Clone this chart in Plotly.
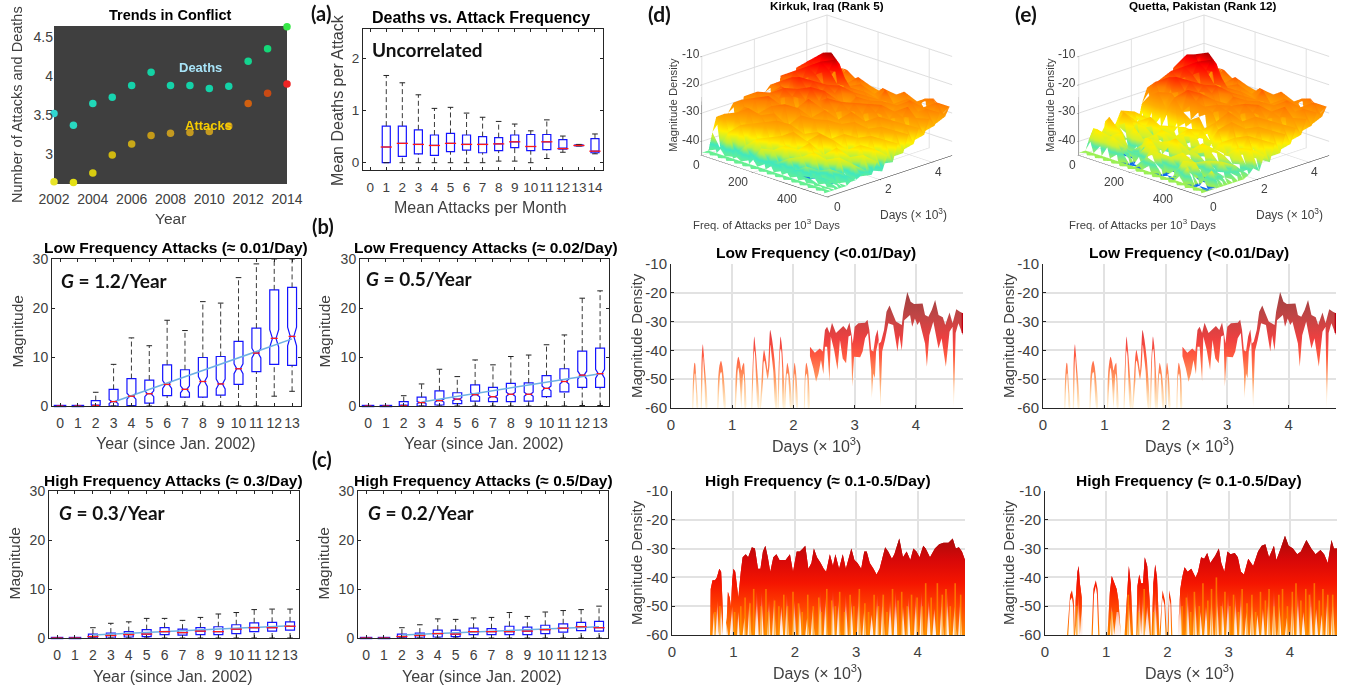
import plotly.graph_objects as go

W, H = 1354, 690
FONT = "Liberation Sans"
LATO = "Lato"
TICK = "#404040"

# ---------- panel (a) data
years = [2002,2003,2004,2005,2006,2007,2008,2009,2010,2011,2012,2013,2014]
deaths = [3.52,3.37,3.65,3.73,3.88,4.05,3.88,3.88,3.84,3.87,4.19,4.35,4.63]
attacks = [2.65,2.64,2.76,2.99,3.13,3.24,3.27,3.28,3.29,3.36,3.65,3.78,3.90]
death_colors = ["#2fd8d0","#28d8c0","#20d8b8","#18d4b0","#14d2aa","#14d2a4","#14d2a8","#14d2a8","#14d2a8","#14d2a8","#14d490","#14d878","#38e848"]
attack_colors = ["#e8e428","#e4e014","#d8cc10","#d0b810","#c8a818","#c49a18","#c49a20","#c49a20","#c49a20","#c89820","#d06010","#c84a14","#f02424"]

freq_cats = [1,2,3,4,5,6,7,8,9,10,11,12,13,14]
a_q1 = [0,0.12,0.17,0.14,0.21,0.24,0.19,0.23,0.29,0.23,0.25,0.26,0.32,0.19]
a_med = [0.30,0.37,0.35,0.33,0.37,0.35,0.35,0.36,0.40,0.31,0.40,0.27,0.33,0.22]
a_q3 = [0.70,0.70,0.63,0.53,0.56,0.53,0.50,0.48,0.53,0.54,0.54,0.44,0.34,0.46]
a_lo = [0,0,0,0,0,0,0,0.03,0.03,0,0.08,0.20,0.32,0.17]
a_hi = [1.67,1.53,1.30,1.04,1.06,0.95,0.87,0.79,0.74,0.61,0.82,0.51,0.35,0.55]

# ---------- panels (b), (c) data
yr = list(range(14))
b1_q1 = [0,0,0,0,0.1,0.6,2.1,1.8,1.8,2.2,4.4,7.0,8.5,8.3]
b1_med = [0,0,0.1,0.9,2.0,2.5,4.4,3.4,5.0,4.5,7.6,10.8,13.8,14.2]
b1_q3 = [0,0,1.1,3.4,5.6,5.3,8.4,7.4,9.9,10.1,13.2,15.9,23.7,24.2]
b1_lo = [0,0,0,0,0,0,0,0,0,0,0,0,2,3]
b1_hi = [0,0,2.8,8.5,13.9,12.3,17.5,15.4,21.3,21.0,26.2,29.0,30,30]
b1_notch = [0,0,0.1,0.4,0.6,0.6,0.8,0.7,1.0,1.0,1.0,1.0,1.8,1.9]
b1_trend_x = [3,13]
b1_trend_y = [0.8,13.7]

b2_q1 = [0,0,0,0,0.2,0.5,1.0,0.9,0.9,1.0,1.9,2.9,3.8,3.8]
b2_med = [0,0,0.05,0.7,1.1,1.4,2.3,1.9,2.4,2.4,3.6,5.0,6.3,6.6]
b2_q3 = [0,0,0.9,1.8,3.1,2.7,4.3,3.8,4.6,4.7,6.2,7.6,11.2,11.8]
b2_lo = [0,0,0,0,0,0,0,0,0,0,0,0,0.1,0.1]
b2_hi = [0,0,2.1,4.5,7.5,6.0,9.4,8.4,10.1,10.4,12.5,14.5,22.0,23.5]
b2_notch = [0,0,0.1,0.2,0.3,0.3,0.4,0.3,0.4,0.4,0.5,0.5,0.8,0.9]
b2_trend_x = [3,13]
b2_trend_y = [0.8,6.6]

c1_q1 = [0,0,0,0,0.2,0.3,0.7,0.6,0.7,0.7,0.9,1.3,1.4,1.6]
c1_med = [0,0,0.3,0.5,0.7,0.8,1.3,1.1,1.4,1.3,1.8,2.1,2.1,2.4]
c1_q3 = [0,0,0.8,1.0,1.3,1.7,2.1,1.8,2.1,2.3,2.7,3.1,3.2,3.3]
c1_lo = [0]*14
c1_hi = [0,0,2.1,3.0,3.3,4.0,4.0,3.6,4.2,4.9,5.2,5.8,5.9,5.9]
c1_trend_x = [2,13]
c1_trend_y = [0.6,2.5]

c2_q1 = [0,0,0,0,0.2,0.3,0.7,0.7,0.7,0.7,0.9,1.2,1.5,1.4]
c2_med = [0,0,0.3,0.5,0.9,0.8,1.3,1.3,1.3,1.4,1.7,2.0,2.3,2.1]
c2_q3 = [0,0,0.8,1.0,1.6,1.6,2.0,1.9,2.4,2.2,2.6,2.9,3.2,3.4]
c2_lo = [0]*14
c2_hi = [0,0,2.1,2.7,3.9,3.8,4.1,4.2,5.2,4.4,5.3,5.6,5.8,6.5]
c2_trend_x = [2,13]
c2_trend_y = [0.6,2.3]

# ---------- slices: low frequency (same picture in (d) and (e))
low_days = [0.345,0.36,0.375,0.385,0.395,0.405,0.42,0.44,None,
 0.485,0.495,0.505,0.52,0.535,0.55,0.57,0.59,None,
 0.755,0.77,0.79,0.817,0.84,0.86,0.89,None,
 1.04,1.06,1.08,1.10,1.125,1.15,1.165,1.19,1.205,1.225,None,
 1.31,1.325,1.345,1.36,1.38,1.41,1.44,None,
 1.45,1.48,1.50,1.52,1.55,1.58,1.60,1.62,1.65,1.69,1.73,None,
 1.74,1.76,1.78,1.79,1.81,1.83,1.85,None,
 1.85,1.87,1.89,1.90,1.92,1.94,1.97,None,
 1.98,2.00,2.02,2.04,2.07,None,
 2.17,2.19,2.21,2.24,2.26,None,
 2.27,2.35,2.43,2.48,2.515,2.55,2.59,2.63,2.695,2.75,2.815,2.87,2.915,2.945,2.97,3.0,3.06,3.17,3.21,3.24,3.27,3.305,3.34,3.375,3.40,3.43,3.48,3.52,3.57,3.62,3.675,3.77,3.795,3.86,3.915,3.97,4.07,4.11,4.15,4.205,4.26,4.315,4.37,4.44,4.48,4.55,4.60,4.66,4.72,4.77]
low_upper = [-60,-50,-45.5,-44.3,-44.6,-47,-52,-60,None,
 -60,-47,-41,-37.9,-41,-45,-50,-60,None,
 -60,-50,-45.5,-43.6,-45.5,-49,-60,None,
 -60,-48,-44,-42.2,-44,-47,-45.5,-44.3,-48,-60,None,
 -60,-50,-40,-35.2,-39,-47,-60,None,
 -60,-50,-43,-39.9,-43,-47,-40,-32.9,-36,-43,-60,None,
 -60,-45,-37.5,-35.2,-38,-44,-60,None,
 -60,-50,-45.5,-44.3,-46,-49,-60,None,
 -60,-48,-44.3,-47,-60,None,
 -60,-48,-44.3,-47,-60,None,
 -38.7,-40.8,-39.3,-40.4,-32.9,-31.8,-34,-30.4,-34,-32.9,-31.5,-32.9,-30.3,-34,-37.6,-31.8,-30.6,-30.4,-29.4,-32.9,-39.9,-40.4,-35.2,-32.7,-37.6,-37,-32.9,-26.6,-24.4,-27.1,-30,-31.2,-26.6,-19.7,-23.1,-23.9,-23.9,-23.7,-27.7,-28.3,-26,-22.5,-27.7,-28.5,-31.2,-26.8,-30.6,-25.7,-26.6,-27.1]
low_low_days = [0.365,0.375,0.385,0.39,0.395,0.40,0.41,0.42,None,
 0.505,0.515,0.52,0.525,0.53,0.54,0.55,0.57,None,
 0.775,0.795,0.805,0.82,0.83,0.84,0.87,None,
 1.06,1.08,1.09,1.10,1.115,1.15,1.175,1.185,1.195,1.205,None,
 1.33,1.345,1.355,1.365,1.375,1.39,1.42,None,
 1.47,1.505,1.515,1.525,1.54,1.58,1.61,1.625,1.64,1.67,1.71,None,
 1.76,1.775,1.785,1.795,1.805,1.815,1.83,None,
 1.87,1.885,1.895,1.905,1.915,1.925,1.95,None,
 2.00,2.015,2.025,2.03,2.05,None,
 2.19,2.20,2.215,2.23,2.24,None,
 2.27,2.325,2.37,2.41,2.45,2.49,2.515,2.55,2.59,2.61,2.665,2.72,2.76,2.805,2.86,2.90,2.94,2.96,2.99,3.09,3.13,3.17,3.22,3.27,3.28,3.305,3.33,3.35,3.39,3.42,3.45,3.495,3.55,3.63,3.70,3.73,3.77,3.81,3.905,3.94,3.985,4.025,4.06,4.15,4.18,4.22,4.285,4.37,4.42,4.49,4.55,4.60,4.62,4.65,4.695,4.77]
low_lower = [-60,-53,-48.5,-48,-48,-50,-55,-60,None,
 -60,-47,-43,-42,-44,-48,-52,-60,None,
 -60,-50,-48,-47.5,-48,-52,-60,None,
 -60,-51,-47,-46,-48,-60,-49,-48,-51,-60,None,
 -60,-47,-41,-40,-42,-50,-60,None,
 -60,-50,-44,-43.5,-45,-50,-45,-38,-41,-47,-60,None,
 -60,-44,-40,-39.5,-41,-46,-60,None,
 -60,-50,-48,-48,-48.5,-52,-60,None,
 -60,-49,-48,-50,-60,None,
 -60,-49,-48,-50,-60,None,
 -42,-46.2,-50.9,-48,-43.3,-48.3,-38.7,-38.7,-50.9,-35.2,-39.9,-46.8,-36.4,-42.8,-44.5,-35.2,-34.7,-52.6,-42.2,-42.4,-40.4,-35.8,-34,-46.8,-56.6,-48,-49.7,-40.4,-36.4,-60,-40.4,-36.4,-30.6,-31.2,-40.4,-34.7,-40,-29.5,-27.7,-31.8,-28.9,-31.2,-30,-37.6,-45.7,-34.7,-30,-39.3,-35.8,-45.7,-33.5,-31.8,-60,-34,-30.6,-34.7]
low_edge_days = [4.765,4.765]
low_edge_vals = [-27,-34]

# ---------- slices: high frequency, upper edge
hd_days = [0.62,0.63,0.66,0.70,0.73,0.77,0.80,0.83,None,
 0.88,0.91,0.94,0.96,0.98,1.00,1.03,1.06,1.08,1.12,1.15,1.20,1.24,1.30,1.35,1.40,1.44,1.48,1.52,1.56,1.60,1.65,1.70,1.75,1.80,1.85,1.92,1.97,2.03,2.08,2.13,2.17,2.22,2.27,2.31,2.36,2.42,2.47,2.51,2.57,2.62,2.66,2.72,2.78,2.83,2.88,2.92,2.97,3.02,3.08,3.13,3.17,3.22,3.28,3.33,3.38,3.43,3.47,3.52,3.58,3.62,3.70,3.76,3.82,3.88,3.93,3.98,4.03,4.09,4.13,4.20,4.28,4.35,4.42,4.50,4.57,4.62,4.67,4.72,4.77]
hd_upper = [-60,-44,-41,-41,-40,-37,-38,-52,None,
 -60,-45,-47,-50,-41,-37,-38,-44,-47,-38,-33,-32,-33,-29.5,-30,-37,-37,-31,-29,-33,-38,-33,-32,-34,-34,-34,-32,-38,-31,-31,-30,-29,-37,-35,-30,-33,-35,-37,-38,-32,-36,-32,-37,-32,-37,-33,-30,-34,-35,-37,-31,-31,-35,-37,-39,-37,-33,-29.5,-31,-33.5,-32,-26.5,-33,-31,-34,-30,-31,-33,-29,-30,-33,-30,-28.5,-28,-28,-26.5,-30,-29.5,-31,-34]
# high frequency, white notches along the bottom edge
hd_low_days = [0.62,0.66,0.68,0.71,0.74,0.76,0.80,0.83,None,
 0.88,0.91,0.94,0.98,1.00,1.03,1.06,1.08,1.10,1.13,1.15,1.18,1.20,1.23,1.26,1.29,1.31,1.35,1.38,1.41,1.43,1.46,1.49,1.52,1.55,1.58,1.60,1.63,1.66,1.69,1.72,1.75,1.78,1.81,1.84,1.87,1.90,1.93,1.96,1.99,2.02,2.05,2.08,2.11,2.14,2.17,2.20,2.23,2.26,2.29,2.32,2.35,2.38,2.41,2.44,2.47,2.50,2.53,2.56,2.59,2.62,2.65,2.68,2.71,2.74,2.77,2.80,2.83,2.86,2.89,2.92,2.95,2.98,3.01,3.04,3.07,3.10,3.13,3.16,3.19,3.22,3.25,3.28,3.31,3.34,3.37,3.40,3.43,3.46,3.49,3.52,3.55,3.58,3.61,3.64,3.67,3.70,3.73,3.76,3.79,3.82,3.85,3.88,3.91,3.94,3.97,4.00,4.03,4.06,4.09,4.12,4.15,4.18,4.21,4.24,4.27,4.30,4.33,4.36,4.39,4.42,4.45,4.48,4.51,4.54,4.57,4.60,4.63,4.66,4.69,4.72,4.77]
hd_lower = [-60,-60,-52,-60,-48,-60,-50,-60,None,
 -60,-60,-54,-60,-60,-50,-60,-60,-60,-52,-60,-60,-60,-54,-60,-60,-48,-60,-60,-60,-44,-60,-60,-45,-60,-60,-60,-48,-60,-60,-47,-60,-60,-60,-50,-60,-60,-46,-60,-60,-60,-48,-60,-60,-49,-60,-60,-60,-54,-60,-60,-51,-60,-60,-60,-45,-60,-60,-47,-60,-60,-60,-44,-60,-60,-48,-60,-60,-60,-46,-60,-60,-48,-60,-60,-60,-44,-60,-60,-51,-60,-60,-60,-53,-60,-60,-46,-60,-60,-45,-60,-60,-60,-48,-60,-60,-44,-60,-60,-60,-50,-60,-60,-47,-60,-60,-60,-46,-60,-60,-45,-60,-60,-60,-48,-60,-60,-51,-60,-60,-60,-47,-60,-60,-45,-60,-60,-60,-50,-60,-60,-48,-60,-60]
hd_streak_days = [0.70,0.78,1.02,1.12,1.19,1.27,1.33,1.45,1.53,1.57,1.67,1.74,1.82,1.88,1.97,2.06,2.12,2.21,2.30,2.39,2.43,2.52,2.60,2.66,2.73,2.81,2.90,2.96,3.05,3.14,3.20,3.29,3.36,3.44,3.50,3.59,3.68,3.74,3.83,3.90,3.99,4.07,4.13,4.22,4.32,4.40,4.46,4.53,4.61,4.70]
hd_streak_top = [-52,-50,-52,-50,-47,-49,-44,-50,-44,-52,-48,-50,-46,-50,-45,-49,-52,-46,-50,-47,-52,-44,-48,-50,-45,-52,-46,-50,-44,-49,-52,-46,-50,-46,-52,-44,-48,-45,-50,-46,-47,-50,-42,-47,-42,-46,-44,-50,-42,-46]

he_days = [0.36,0.41,0.44,0.47,0.49,None,
 0.49,0.50,0.53,0.55,0.57,0.60,0.61,None,
 0.76,0.79,0.83,0.86,0.89,None,
 1.02,1.06,1.09,1.13,1.17,1.20,1.24,None,
 1.30,1.34,1.37,1.40,1.44,None,
 1.49,1.51,1.54,1.57,1.60,1.63,1.67,1.71,1.73,None,
 1.74,1.77,1.80,1.83,1.87,None,
 1.87,1.90,1.92,1.96,1.99,None,
 2.00,2.03,2.06,2.08,None,
 2.17,2.21,2.24,2.28,2.33,2.39,2.46,2.50,2.55,2.60,2.65,2.70,2.78,2.84,2.88,2.93,2.98,3.03,3.10,3.15,3.20,3.25,3.32,3.40,3.48,3.54,3.60,3.66,3.74,3.78,3.85,3.92,3.98,4.05,4.12,4.18,4.27,4.35,4.42,4.50,4.56,4.62,4.68,4.72,4.77]
he_upper = [-60,-46,-44.5,-48,-60,None,
 -60,-48,-38,-36,-42,-47,-60,None,
 -60,-44,-41,-44,-60,None,
 -60,-45,-39.5,-42,-44,-48,-60,None,
 -60,-44,-36,-42,-60,None,
 -60,-43,-39,-42,-42,-33,-36,-48,-60,None,
 -60,-42,-35.5,-40,-60,None,
 -60,-48,-44.5,-48,-60,None,
 -60,-44.5,-48,-60,None,
 -60,-44,-40,-36.5,-38,-37,-40,-38,-33,-33.5,-31.5,-35,-32.5,-30,-35,-38,-31,-32,-31.5,-33,-38,-39,-33.5,-36,-31,-29,-28.5,-33,-29,-34,-30,-25.5,-29,-30,-32,-31,-27,-30,-32,-30.5,-32,-35,-27,-30,-30]
he_low_days = [0.38,0.41,0.44,0.46,0.47,None,
 0.49,0.50,0.53,0.55,0.57,0.60,0.61,None,
 0.78,0.80,0.83,0.85,0.87,None,
 1.02,1.06,1.09,1.13,1.17,1.20,1.24,None,
 1.30,1.34,1.37,1.40,1.44,None,
 1.49,1.51,1.54,1.57,1.60,1.63,1.67,1.71,1.73,None,
 1.74,1.77,1.80,1.83,1.87,None,
 1.89,1.91,1.92,1.95,1.97,None,
 2.02,2.03,2.05,2.06,None,
 2.17,2.21,2.24,2.27,2.30,2.33,2.36,2.39,2.42,2.45,2.48,2.51,2.54,2.57,2.60,2.63,2.66,2.69,2.72,2.75,2.78,2.81,2.84,2.87,2.90,2.93,2.96,2.99,3.02,3.05,3.08,3.11,3.14,3.17,3.20,3.23,3.26,3.29,3.32,3.35,3.38,3.41,3.44,3.47,3.50,3.53,3.56,3.59,3.62,3.65,3.68,3.71,3.74,3.77,3.80,3.83,3.86,3.89,3.92,3.95,3.98,4.01,4.04,4.07,4.10,4.13,4.16,4.19,4.22,4.25,4.28,4.31,4.34,4.37,4.40,4.43,4.46,4.49,4.52,4.55,4.58,4.61,4.64,4.67,4.70,4.73,4.77]
he_lower = [-60,-48,-47,-50,-60,None,
 -60,-60,-52,-46,-60,-50,-60,None,
 -60,-46,-43,-46,-60,None,
 -60,-60,-50,-60,-52,-52,-60,None,
 -60,-60,-48,-60,-60,None,
 -60,-60,-46,-60,-45,-60,-50,-60,-60,None,
 -60,-60,-44,-60,-60,None,
 -60,-49.5,-47,-49.5,-60,None,
 -60,-47,-49.5,-60,None,
 -60,-60,-60,-46,-60,-60,-60,-45,-60,-60,-60,-44,-60,-60,-52,-60,-60,-50,-60,-60,-46,-60,-60,-44,-60,-60,-48,-60,-60,-45,-60,-60,-60,-46,-60,-60,-44,-60,-60,-52,-60,-60,-47,-60,-60,-53,-60,-60,-51,-60,-60,-45,-60,-60,-44,-60,-60,-50,-60,-60,-60,-54,-60,-60,-46,-60,-60,-45,-60,-60,-52,-60,-60,-60,-44,-60,-60,-51,-60,-60,-53,-60,-60,-45,-60,-60,-46,-60,-60]
he_thin_segments = [0,2,7,8]
he_streak_days = [0.52,1.09,1.36,1.53,1.62,1.78,2.24,2.31,2.38,2.44,2.52,2.58,2.66,2.72,2.80,2.88,2.94,3.02,3.08,3.16,3.22,3.30,3.38,3.44,3.52,3.60,3.66,3.74,3.82,3.88,3.96,4.04,4.10,4.18,4.26,4.32,4.40,4.48,4.54,4.62,4.70]
he_streak_top = [-50,-52,-46,-52,-44,-52,-50,-47,-52,-45,-50,-42,-48,-44,-40,-50,-45,-50,-46,-52,-44,-49,-46,-52,-45,-48,-44,-50,-46,-44,-50,-45,-42,-48,-44,-46,-42,-48,-44,-46,-46]

# ---------- 3D surfaces: rows by frequency, columns by days
surf_freq = [0,32,64,96,128,160,192,224,256,288,320,352,384,416,448,480]
surf_days = [0,0.25,0.4,0.55,0.7,0.85,1.0,1.2,1.4,1.6,1.8,2.0,2.2,2.4,2.6,2.8,3.0,3.2,3.4,3.6,3.8,4.0,4.2,4.4,4.6,4.77]
surf_d = [
 [-44,-44,-38,-33,-39,-43,-33,-30,-40,-29,-37,-31,-40,-30,-28,-38,-26,-31,-36,-25,-29,-24,-28,-33,-26,-29],
 [-44,-44,-43,-31,-41,-33,-40,-28,-37,-31,-27,-39,-29,-36,-26,-33,-28,-24,-35,-27,-22,-27,-24,-33,-27,-33],
 [-44,-44,-36,-42,-30,-40,-29,-38,-27,-36,-30,-27,-38,-26,-33,-24,-32,-26,-22,-30,-24,-19,-27,-30,-35,-27],
 [-44,-44,-44,-33,-39,-28,-39,-31,-40,-26,-37,-28,-25,-35,-28,-23,-30,-33,-24,-20,-28,-18,-23,-32,-26,-33],
 [-44,-44,-39,-42,-32,-40,-30,-39,-28,-36,-29,-38,-27,-25,-34,-27,-24,-32,-27,-22,-19,-21,-29,-34,-28,-35],
 [-44,-44,-43,-36,-43,-31,-40,-29,-37,-27,-39,-30,-36,-28,-24,-33,-27,-25,-33,-26,-23,-28,-33,-26,-34,-30],
 [-44,-44,-38,-43,-35,-42,-30,-41,-33,-39,-28,-37,-26,-35,-28,-25,-34,-27,-25,-32,-27,-34,-27,-35,-29,-36],
 [-44,-44,-42,-38,-43,-34,-42,-31,-40,-29,-38,-31,-39,-29,-26,-35,-28,-32,-37,-27,-33,-28,-36,-30,-34,-31],
 [-44,-44,-41,-43,-36,-43,-32,-41,-34,-42,-30,-39,-28,-37,-30,-27,-37,-29,-27,-35,-28,-37,-30,-27,-34,-37],
 [-44,-44,-43,-39,-44,-37,-43,-35,-42,-33,-41,-30,-38,-31,-40,-29,-27,-37,-30,-28,-36,-29,-26,-35,-29,-33],
 [-44,-44,-42,-44,-38,-43,-34,-43,-32,-41,-35,-42,-31,-39,-28,-38,-30,-27,-36,-30,-28,-35,-30,-37,-27,-35],
 [-44,-44,-43,-40,-45,-36,-43,-38,-44,-34,-42,-33,-40,-30,-39,-31,-39,-29,-27,-37,-31,-29,-37,-28,-35,-30],
 [-44,-44,-43,-43,-41,-44,-38,-44,-35,-43,-37,-42,-34,-41,-32,-40,-29,-38,-31,-29,-38,-31,-27,-36,-29,-28],
 [-44,-44,-44,-42,-45,-40,-44,-37,-43,-38,-44,-35,-41,-33,-40,-31,-40,-30,-38,-30,-27,-36,-30,-29,-35,-27],
 [-44,-44,-44,-43,-43,-44,-41,-45,-39,-44,-37,-43,-36,-42,-34,-41,-32,-40,-31,-38,-30,-36,-28,-35,-27,-32],
 [-44,-44,-44,-44,-44,-44,-43,-43,-42,-41,-43,-39,-43,-38,-41,-35,-39,-33,-37,-32,-35,-30,-33,-29,-31,-28],
]
surf_e = [
 [-44,-44,-40,-37,-42,-44,-36,-41,-38,-34,-43,-38,-42,-34,-29,-37,-28,-31,-36,-25,-29,-23,-28,-33,-26,-29],
 [-44,-44,-36,-41,-41,-33,-44,-37,-33,-42,-34,-37,-43,-30,-26,-33,-29,-24,-35,-27,-20,-26,-23,-33,-27,-33],
 [-44,-44,-39,-38,-43,-36,-42,-41,-35,-36,-42,-36,-40,-28,-33,-24,-32,-26,-22,-30,-19,-20,-27,-30,-35,-27],
 [-44,-44,-37,-42,-36,-45,-45,-36,-41,-37,-34,-43,-39,-33,-28,-23,-30,-33,-24,-20,-28,-18,-23,-32,-26,-33],
 [-44,-44,-41,-40,-42,-45,-45,-39,-42,-39,-36,-38,-42,-28,-34,-27,-24,-32,-27,-22,-19,-21,-29,-34,-28,-35],
 [-44,-44,-45,-45,-42,-39,-37,-41,-37,-36,-42,-36,-37,-32,-25,-33,-27,-25,-33,-26,-23,-28,-33,-26,-34,-30],
 [-44,-44,-45,-45,-38,-36,-43,-38,-42,-39,-38,-42,-36,-34,-28,-26,-34,-27,-25,-32,-27,-34,-27,-35,-29,-36],
 [-44,-44,-40,-38,-37,-41,-41,-37,-38,-43,-37,-35,-40,-32,-29,-35,-28,-32,-37,-27,-33,-28,-36,-30,-34,-31],
 [-44,-44,-41,-38,-43,-45,-45,-35,-40,-39,-42,-37,-35,-37,-30,-28,-37,-29,-27,-35,-28,-37,-30,-27,-34,-37],
 [-44,-44,-45,-45,-39,-45,-45,-40,-39,-42,-40,-43,-38,-32,-36,-29,-28,-37,-30,-28,-36,-29,-26,-35,-29,-33],
 [-44,-44,-45,-45,-42,-37,-43,-42,-39,-36,-41,-39,-33,-39,-28,-38,-30,-27,-36,-30,-28,-35,-30,-37,-27,-35],
 [-44,-44,-43,-38,-42,-40,-40,-43,-41,-38,-38,-36,-41,-30,-37,-31,-39,-29,-27,-37,-31,-29,-37,-28,-35,-30],
 [-44,-44,-39,-41,-38,-45,-45,-39,-42,-41,-39,-40,-34,-39,-32,-40,-29,-38,-31,-29,-38,-31,-27,-36,-29,-28],
 [-44,-44,-45,-45,-43,-45,-45,-42,-39,-43,-41,-36,-39,-33,-38,-31,-40,-30,-38,-30,-27,-36,-30,-29,-35,-27],
 [-44,-44,-45,-45,-39,-42,-41,-43,-42,-40,-43,-41,-36,-40,-34,-41,-32,-40,-31,-38,-30,-36,-28,-35,-27,-32],
 [-44,-44,-44,-44,-44,-44,-44,-44,-44,-44,-43,-41,-43,-38,-41,-35,-39,-33,-37,-32,-35,-30,-33,-29,-31,-28],
]

slice_y_ticks = [-60,-50,-40,-30,-20,-10]
slice_y_text = ["-60","-50","-40","-30","-20","-10"]
scene_z_ticks = [-40,-30,-20,-10]
scene_z_text = ["-40","-30","-20","-10"]
scene_freq_ticks = [0,200,400]
scene_day_ticks = [0,2,4]

fig = go.Figure()
annots = []

def px(x): return x / W
def py(y): return 1 - y / H

def ann(text, x, y, size, color="#000000", bold=False, font=FONT, anchor="center", angle=0):
    annots.append(dict(text=("<b>%s</b>" % text) if bold else text, x=px(x), y=py(y), xref="paper", yref="paper",
                       showarrow=False, xanchor=anchor, yanchor="middle", textangle=angle,
                       font=dict(family=font, size=size, color=color)))

axis_n = [0]
def axes(l, t, r, b, xrange, yrange, tickvals_x, tickvals_y, box=True, grid=False, ticksize=14, ttext_y=None, standoff=4):
    axis_n[0] += 1
    n = axis_n[0]
    common = dict(showline=True, linecolor="#262626", linewidth=1, ticks="inside", ticklen=3, tickcolor="#262626",
                  tickfont=dict(family=FONT, size=ticksize, color=TICK), zeroline=False, tickangle=0,
                  mirror=("ticks" if box else False), showgrid=grid, gridcolor="#e2e2e2", gridwidth=1.5)
    xa = dict(domain=[px(l), px(r)], range=xrange, tickmode="array", tickvals=tickvals_x, anchor="y%d" % n, ticklabelstandoff=standoff, **common)
    ya = dict(domain=[py(b), py(t)], range=yrange, tickmode="array", tickvals=tickvals_y, anchor="x%d" % n, **common)
    if ttext_y: ya["ticktext"] = ttext_y
    fig.update_layout(**{"xaxis%d" % n: xa, "yaxis%d" % n: ya})
    return "x%d" % n, "y%d" % n

def boxes(xr, yr_, xs, q1, med, q3, lo, hi, notch=None, trend=None, width=0.5, capsize=4, boxpx=9):
    kw = dict(notched=True, notchspan=notch, notchwidth=0.3) if notch else {}
    wx, wy = [], []
    for x, a, b, c, d in zip(xs, lo, q1, q3, hi):
        wx += [x, x, None, x, x, None]
        wy += [a, b, None, c, d, None]
    fig.add_trace(go.Scatter(x=wx, y=wy, xaxis=xr, yaxis=yr_, mode="lines", line=dict(color="#3a3a3a", width=1, dash="5px,3px"), hoverinfo="skip"))
    fig.add_trace(go.Box(x=xs, q1=q1, median=med, q3=q3, lowerfence=q1, upperfence=q3, xaxis=xr, yaxis=yr_, width=width,
                         line=dict(color="#1414ff", width=1.2), fillcolor="rgba(255,255,255,0)", whiskerwidth=0, boxpoints=False, **kw))
    if trend:
        fig.add_trace(go.Scatter(x=trend[0], y=trend[1], xaxis=xr, yaxis=yr_, mode="lines", line=dict(color="#6cb0e4", width=1.5), hoverinfo="skip"))
    for arr in (lo, hi):
        fig.add_trace(go.Scatter(x=xs, y=arr, xaxis=xr, yaxis=yr_, mode="markers", hoverinfo="skip", cliponaxis=True,
                                 marker=dict(symbol="line-ew", size=capsize, line=dict(color="#222222", width=1))))
    flat_x = [x for x, a, c in zip(xs, q1, q3) if a == c and a == 0]
    flat_y = [a for a, c in zip(q1, q3) if a == c and a == 0]
    if flat_x:
        fig.add_trace(go.Scatter(x=flat_x, y=flat_y, xaxis=xr, yaxis=yr_, mode="markers", hoverinfo="skip", cliponaxis=False,
                                 marker=dict(symbol="line-ew", size=boxpx, line=dict(color="#1414ff", width=2.4))))
    fig.add_trace(go.Scatter(x=xs, y=med, xaxis=xr, yaxis=yr_, mode="markers", hoverinfo="skip", cliponaxis=False,
                             marker=dict(symbol="line-ew", size=5 if notch else 8, line=dict(color="#ff1a1a", width=1.3))))

LOW_SCALE = [[0, "#fff4dc"], [0.12, "#ffd4a8"], [0.25, "#ff9a60"], [0.45, "#ff5a40"], [0.6, "#ee4040"], [0.8, "#c04545"], [1, "#a04040"]]
HIGH_SCALE = [[0, "#ff8c00"], [0.25, "#ff4000"], [0.45, "#f51500"], [0.65, "#d80808"], [0.8, "#b40a0a"], [1, "#a01010"]]
PALE_SCALE = [[0, "rgba(255,225,215,0.35)"], [0.12, "rgba(255,190,170,0.55)"], [0.27, "rgba(255,80,50,0.9)"], [0.4, "#f52000"], [0.65, "#d80808"], [0.8, "#b40a0a"], [1, "#a01010"]]

def segments(arr):
    out, cur = [], []
    for v in arr:
        if v is None:
            out.append(cur); cur = []
        else:
            cur.append(v)
    out.append(cur)
    return out

def ribbon(xr, yr_, days, upper, low_days_, lower, scale, skip=(), smooth_before=0):
    for i, (dx, u, lx, lo) in enumerate(zip(segments(days), segments(upper), segments(low_days_), segments(lower))):
        if i in skip:
            continue
        line = dict(width=0, shape="spline", smoothing=0.7) if i < smooth_before else dict(width=0)
        fig.add_trace(go.Scatter(x=dx + lx[::-1], y=u + lo[::-1], xaxis=xr, yaxis=yr_, mode="lines",
                                 line=line, fill="toself", hoverinfo="skip",
                                 fillgradient=dict(type="vertical", colorscale=scale, start=-60, stop=-20)))

# trends
xr, yr_ = axes(54, 26, 287, 184, [2002, 2014], [2.62, 4.64], list(range(2002, 2015, 2)), [3, 3.5, 4, 4.5], ttext_y=["3", "3.5", "4", "4.5"], standoff=5)
fig.update_layout(xaxis1=dict(mirror=False, ticks="", showline=False), yaxis1=dict(mirror=False, ticks="", showline=False))
fig.add_trace(go.Scatter(x=years, y=deaths, xaxis=xr, yaxis=yr_, mode="markers", cliponaxis=False, marker=dict(size=7.5, color=death_colors), hoverinfo="skip"))
fig.add_trace(go.Scatter(x=years, y=attacks, xaxis=xr, yaxis=yr_, mode="markers", cliponaxis=False, marker=dict(size=7.5, color=attack_colors), hoverinfo="skip"))
ann("Trends in Conflict", 170, 15, 14.5, bold=True)
ann("Deaths", 200, 68, 13, color="#a8e4f8", bold=True)
ann("Attacks", 208, 125, 13, color="#f5cc00", bold=True)
ann("Number of Attacks and Deaths", 17, 105, 14.5, color=TICK, angle=-90)
ann("Year", 170, 219, 15.5, color=TICK)
ann("(a)", 321, 13, 20, color="#111111", bold=True, font=LATO)

# deaths vs frequency
xr, yr_ = axes(363, 29, 603, 170, [-0.45, 14.5], [-0.14, 2.56], list(range(15)), [0, 1, 2], ticksize=13.5, standoff=5)
boxes(xr, yr_, freq_cats, a_q1, a_med, a_q3, a_lo, a_hi, boxpx=8)
ann("Deaths vs. Attack Frequency", 481, 17, 16, bold=True)
ann("Uncorrelated", 427, 50, 19, color="#111111", bold=True, font=LATO)
ann("Mean Deaths per Attack", 338, 100, 16, color=TICK, angle=-90)
ann("Mean Attacks per Month", 481, 207, 16, color=TICK)

# panels b, c
for spec in [
    (52, 259, 301, 406, b1_q1, b1_med, b1_q3, b1_lo, b1_hi, b1_notch, (b1_trend_x, b1_trend_y), "Low Frequency Attacks (≈ 0.01/Day)", 176, 247, "<i>G</i> = 1.2/Year", 59, 280, 17),
    (360, 259, 609, 406, b2_q1, b2_med, b2_q3, b2_lo, b2_hi, b2_notch, (b2_trend_x, b2_trend_y), "Low Frequency Attacks (≈ 0.02/Day)", 486, 247, "<i>G</i> = 0.5/Year", 364, 278, 324),
    (49, 491, 299, 638, c1_q1, c1_med, c1_q3, c1_lo, c1_hi, None, (c1_trend_x, c1_trend_y), "High Frequency Attacks (≈ 0.3/Day)", 173, 480, "<i>G</i> = 0.3/Year", 57, 512, 14),
    (358, 491, 608, 638, c2_q1, c2_med, c2_q3, c2_lo, c2_hi, None, (c2_trend_x, c2_trend_y), "High Frequency Attacks (≈ 0.5/Day)", 483, 480, "<i>G</i> = 0.2/Year", 366, 512, 323),
]:
    l, t, r, b, q1, med, q3, lo, hi, notch, trend, title, tx, ty, g, gx, gy, ylx = spec
    xr, yr_ = axes(l, t, r, b, [-0.45, 13.5], [0, 30], yr, [0, 10, 20, 30], standoff=4)
    boxes(xr, yr_, yr, q1, med, q3, lo, hi, notch=notch, trend=trend)
    ann(title, tx, ty, 15.5, bold=True)
    ann(g, gx, gy, 19, color="#111111", bold=True, font=LATO, anchor="left")
    ann("Magnitude", ylx, (t + b) / 2 - 1, 15.5, color=TICK, angle=-90)
    ann("Year (since Jan. 2002)", (l + r) / 2 - 1, b + 38, 16, color=TICK)
ann("(b)", 323, 226, 20, color="#111111", bold=True, font=LATO)
ann("(c)", 322, 459, 20, color="#111111", bold=True, font=LATO)

# slices
for spec in [
    (671, 264, 963, 408, low_days, low_upper, low_low_days, low_lower, "Low Frequency (&lt;0.01/Day)", 816, 252, 636, None, None, ()),
    (1043, 264, 1336, 408, low_days, low_upper, low_low_days, low_lower, "Low Frequency (&lt;0.01/Day)", 1189, 252, 1008, None, None, ()),
    (672, 491, 965, 635, hd_days, hd_upper, hd_low_days, hd_lower, "High Frequency (≈ 0.1-0.5/Day)", 818, 480, 636, hd_streak_days, hd_streak_top, ()),
    (1045, 491, 1337, 635, he_days, he_upper, he_low_days, he_lower, "High Frequency (≈ 0.1-0.5/Day)", 1189, 480, 1008, he_streak_days, he_streak_top, he_thin_segments),
]:
    l, t, r, b, days, up, ld, lo, title, tx, ty, ylx, sd, st, thin = spec
    xr, yr_ = axes(l, t, r, b, [0, 4.77], [-60, -10], [0, 1, 2, 3, 4], slice_y_ticks, box=False, grid=True, ticksize=15, ttext_y=slice_y_text, standoff=3)
    if sd:
        base = [None if v is None else -60 for v in up]
        ribbon(xr, yr_, days, up, days, base, PALE_SCALE, skip=thin)
        ribbon(xr, yr_, days, up, ld, lo, HIGH_SCALE)
        sx, sy = [], []
        for d, top in zip(sd, st):
            sx += [d, d, None]
            sy += [-60, top, None]
        fig.add_trace(go.Scatter(x=sx, y=sy, xaxis=xr, yaxis=yr_, mode="lines", hoverinfo="skip", line=dict(color="rgba(255,155,0,0.65)", width=1.6)))
    else:
        ribbon(xr, yr_, days, up, ld, lo, LOW_SCALE, smooth_before=10)
        fig.add_trace(go.Scatter(x=low_edge_days, y=low_edge_vals, xaxis=xr, yaxis=yr_, mode="lines", hoverinfo="skip", line=dict(color="#c00010", width=2)))
    ann(title, tx, ty, 15.5, bold=True)
    ann("Magnitude Density", ylx, (t + b) / 2, 15, color=TICK, angle=-90)
    ann("Days (× 10<sup>3</sup>)", tx, b + 37, 16, color=TICK)

# 3D
scene_axis = dict(showbackground=False, gridcolor="#dddddd", showline=True, linecolor="#222222", showspikes=False, title="",
                  showticklabels=False, zeroline=False, ticks="outside", ticklen=2)
def jet(first, second, third):
    return [[0, "#0a68f0"], [0.012, "#0a68f0"], [0.025, first], [0.09, second], [0.15, third], [0.23, "#fff000"], [0.343, "#ffb000"],
            [0.486, "#ff8000"], [0.6, "#ff3000"], [0.686, "#ff0000"], [0.77, "#a80000"], [1, "#7f0000"]]
JET_D = jet("#68f090", "#40e8c0", "#b8f040")
JET_E = jet("#a0f050", "#50e8b0", "#d0f030")
for scn, sz, dom, cs in [("scene", surf_d, [679, 975], JET_D), ("scene2", surf_e, [1056, 1352], JET_E)]:
    mx_, my_, mz_, mi_, mj_, mk_ = [], [], [], [], [], []
    nd = len(surf_days)
    for r, f in enumerate(surf_freq):
        for c, d in enumerate(surf_days):
            mx_.append(f); my_.append(d); mz_.append(sz[r][c])
    for r in range(len(surf_freq) - 1):
        for c in range(nd - 1):
            a = r * nd + c
            mi_ += [a, a + 1]
            mj_ += [a + 1, a + nd + 1]
            mk_ += [a + nd + 1, a + nd]
    fig.add_trace(go.Mesh3d(x=mx_, y=my_, z=mz_, i=mi_, j=mj_, k=mk_, intensity=mz_, scene=scn, colorscale=cs, cmin=-45, cmax=-10,
                            showscale=False, flatshading=False, lighting=dict(ambient=1, diffuse=0, specular=0, fresnel=0), hoverinfo="skip"))
    fig.update_layout(**{scn: dict(domain=dict(x=[px(dom[0]), px(dom[1])], y=[py(212), py(0)]),
                                   aspectmode="manual", aspectratio=dict(x=1.67, y=1.67, z=0.99),
                                   camera=dict(projection=dict(type="orthographic"), eye=dict(x=0.785, y=-0.785, z=0.39), center=dict(x=0, y=0, z=0)),
                                   bgcolor="rgba(0,0,0,0)",
                                   xaxis=dict(scene_axis, range=[0, 490], tickvals=scene_freq_ticks),
                                   yaxis=dict(scene_axis, range=[0, 4.77], tickvals=scene_day_ticks),
                                   zaxis=dict(scene_axis, range=[-45, -10], tickvals=scene_z_ticks))})

for txt, cx, fx, dx, lab, labx, mx, off in [("Kirkuk, Iraq (Rank 5)", 827, 766, 913, "(d)", 659, 673, 0), ("Quetta, Pakistan (Rank 12)", 1203, 1142, 1289, "(e)", 1026, 1050, 376)]:
    ann(txt, cx, 5, 11.7, bold=True)
    ann("Freq. of Attacks per 10<sup>3</sup> Days", fx, 224, 11.3, color=TICK)
    ann("Days (× 10<sup>3</sup>)", dx, 214, 12, color=TICK)
    ann("Magnitude Density", mx, 105, 11.3, color=TICK, angle=-90)
    ann(lab, labx, 13, 21, color="#111111", bold=True, font=LATO)
    for t_, zy in zip(scene_z_text, [140, 111, 83, 54]):
        ann(t_, 691 + off, zy, 12, color=TICK)
    for t_, pos in zip(scene_freq_ticks, [(696, 165), (738, 182), (787, 199)]):
        ann(str(t_), pos[0] + off, pos[1], 12, color=TICK)
    for t_, pos in zip(scene_day_ticks, [(837, 207), (888, 189), (938, 172)]):
        ann(str(t_), pos[0] + off, pos[1], 12, color=TICK)

fig.update_layout(width=W, height=H, margin=dict(l=0, r=0, t=0, b=0, autoexpand=False), showlegend=False, paper_bgcolor="white", plot_bgcolor="white",
                  annotations=annots, boxmode="overlay",
                  shapes=[dict(type="rect", xref="x domain", yref="y domain", x0=0, x1=1, y0=0, y1=1, fillcolor="#3f3f3f", line_width=0, layer="below")])
fig.write_html("out.html", config=dict(displayModeBar=False), post_script="document.body.style.margin='0';")
